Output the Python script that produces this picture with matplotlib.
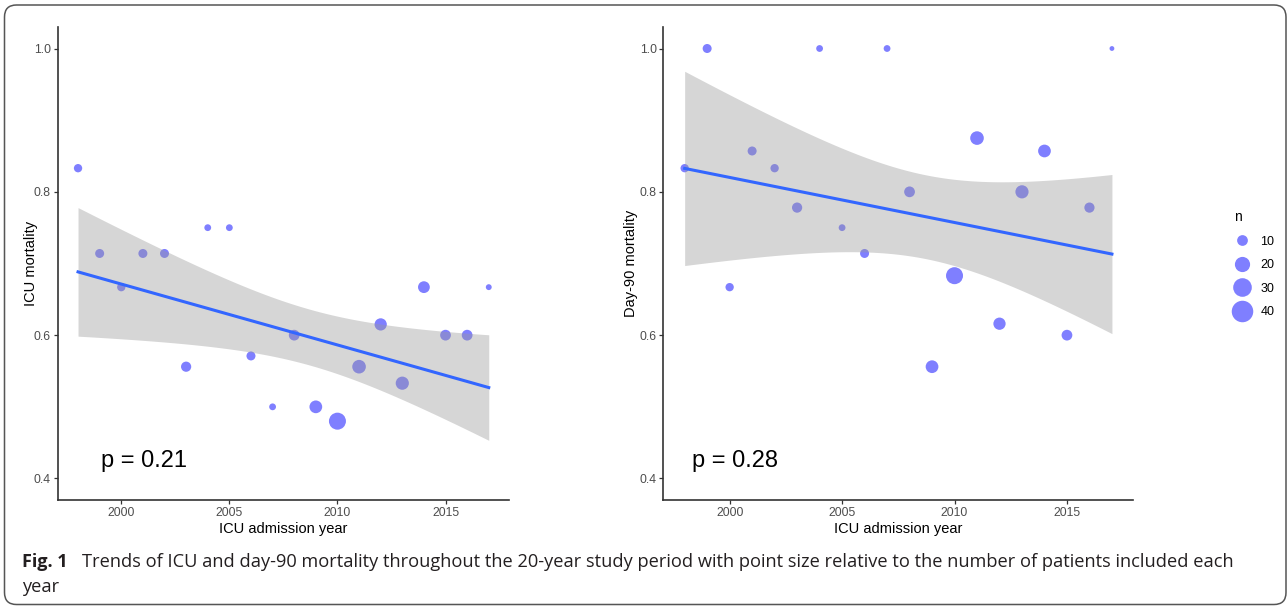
import numpy as np
import matplotlib
matplotlib.use("Agg")
import matplotlib.pyplot as plt
from matplotlib.patches import FancyBboxPatch
from matplotlib.lines import Line2D
from matplotlib.transforms import IdentityTransform

plt.rcParams['font.family'] = ['Liberation Sans', 'DejaVu Sans']

# data
years = list(range(1998, 2018))

icu_mort = [0.833, 0.714, 0.667, 0.714, 0.714, 0.556, 0.75, 0.75, 0.571, 0.5,
            0.6, 0.5, 0.48, 0.556, 0.615, 0.533, 0.667, 0.6, 0.6, 0.667]
icu_n = [6, 7, 6, 7, 7, 9, 4, 4, 7, 4, 10, 14, 25, 16, 13, 15, 12, 10, 10, 3]

d90_mort = [0.833, 1.0, 0.667, 0.857, 0.833, 0.778, 1.0, 0.75, 0.714, 1.0,
            0.8, 0.556, 0.683, 0.875, 0.616, 0.8, 0.857, 0.6, 0.778, 1.0]
d90_n = [6, 7, 6, 7, 6, 9, 4, 4, 7, 4, 10, 14, 25, 16, 13, 15, 14, 10, 9, 2]

p_labels = ['p = 0.21', 'p = 0.28']
y_titles = ['ICU mortality', 'Day-90 mortality']
x_title = 'ICU admission year'
legend_n = [10, 20, 30, 40]
x_ticks = [2000, 2005, 2010, 2015]
y_ticks = [0.4, 0.6, 0.8, 1.0]

caption_bold = 'Fig. 1'
caption_1 = ('Trends of ICU and day-90 mortality throughout the 20-year study period '
             'with point size relative to the number of patients included each')
caption_2 = 'year'

T_975 = 2.1009  # t quantile, df = 18
SIZE_K = 6.0    # marker area (pt^2) per patient


def wls_band(x, y, w, xs):
    x = np.asarray(x, float)
    y = np.asarray(y, float)
    w = np.asarray(w, float)
    X = np.column_stack([np.ones_like(x), x - 2007.5])
    W = np.diag(w)
    inv = np.linalg.inv(X.T @ W @ X)
    beta = inv @ X.T @ W @ y
    resid = y - X @ beta
    sigma2 = (w * resid ** 2).sum() / (len(x) - 2)
    Xs = np.column_stack([np.ones_like(xs), xs - 2007.5])
    fit = Xs @ beta
    se = np.sqrt(sigma2 * np.einsum('ij,jk,ik->i', Xs, inv, Xs))
    return fit, fit - T_975 * se, fit + T_975 * se


fig = plt.figure(figsize=(12.88, 6.06), dpi=100)
ax1 = fig.add_axes([57.5 / 1288, 106 / 606, 451.8 / 1288, 473 / 606])
ax2 = fig.add_axes([663.3 / 1288, 106 / 606, 470 / 1288, 473 / 606])

panels = [(ax1, icu_mort, icu_n, 1999.07, -0.043),
          (ax2, d90_mort, d90_n, 1998.34, -0.054)]

xs = np.linspace(years[0], years[-1], 100)
for i, (ax, mort, n, px, ylab_x) in enumerate(panels):
    ax.scatter(years, mort, s=[SIZE_K * v for v in n], color='blue', alpha=0.5,
               linewidths=0, zorder=2)
    fit, lo, hi = wls_band(years, mort, n, xs)
    ax.fill_between(xs, lo, hi, color='#999999', alpha=0.4, linewidth=0, zorder=3)
    ax.plot(xs, fit, color='#3366FF', lw=2.2, zorder=4)
    ax.text(px, 0.425, p_labels[i], fontsize=17, va='center', ha='left', color='black')

    ax.set_xlim(1997.05, 2017.95)
    ax.set_ylim(0.37, 1.03)
    ax.set_xticks(x_ticks)
    ax.set_yticks(y_ticks)
    ax.set_yticklabels(['%.1f' % v for v in y_ticks])
    for s in ['top', 'right']:
        ax.spines[s].set_visible(False)
    for s in ['left', 'bottom']:
        ax.spines[s].set_color('#333333')
        ax.spines[s].set_linewidth(1.2)
    ax.tick_params(length=2.8, width=0.9, color='#333333', labelcolor='#4D4D4D',
                   labelsize=8.8, pad=2)
    ax.set_xlabel(x_title, fontsize=10.5)
    ax.set_ylabel(y_titles[i], fontsize=10.5)
    ax.xaxis.set_label_coords(0.5, -0.047)
    ax.yaxis.set_label_coords(ylab_x, 0.5)

# size legend
handles = [Line2D([], [], marker='o', linestyle='', color='blue', alpha=0.5,
                  markeredgewidth=0, markersize=np.sqrt(SIZE_K * v)) for v in legend_n]
leg = fig.legend(handles, [str(v) for v in legend_n], title='n', frameon=False,
                 loc='upper left', bbox_to_anchor=(1228 / 1288, 1 - 204 / 606),
                 fontsize=9, title_fontsize=10, labelspacing=0.92, handletextpad=0.8,
                 handlelength=1.3, borderpad=0, alignment='left')

# caption
cap_font = ['Open Sans', 'DejaVu Sans']
fig.text(22 / 1288, 1 - 567 / 606, caption_bold, fontsize=13, fontweight='bold',
         family=cap_font, color='#231f20', va='baseline')
fig.text(82 / 1288, 1 - 567 / 606, caption_1, fontsize=13.15,
         family=cap_font, color='#231f20', va='baseline')
fig.text(22 / 1288, 1 - 592 / 606, caption_2, fontsize=13.15,
         family=cap_font, color='#231f20', va='baseline')

# outer frame
frame = FancyBboxPatch((4.5, 1.5), 1281.5, 599.5, boxstyle='round,pad=0,rounding_size=12',
                       transform=IdentityTransform(), facecolor='none',
                       edgecolor='#555555', linewidth=1.1)
fig.add_artist(frame)

fig.savefig('out.png', dpi=100)
